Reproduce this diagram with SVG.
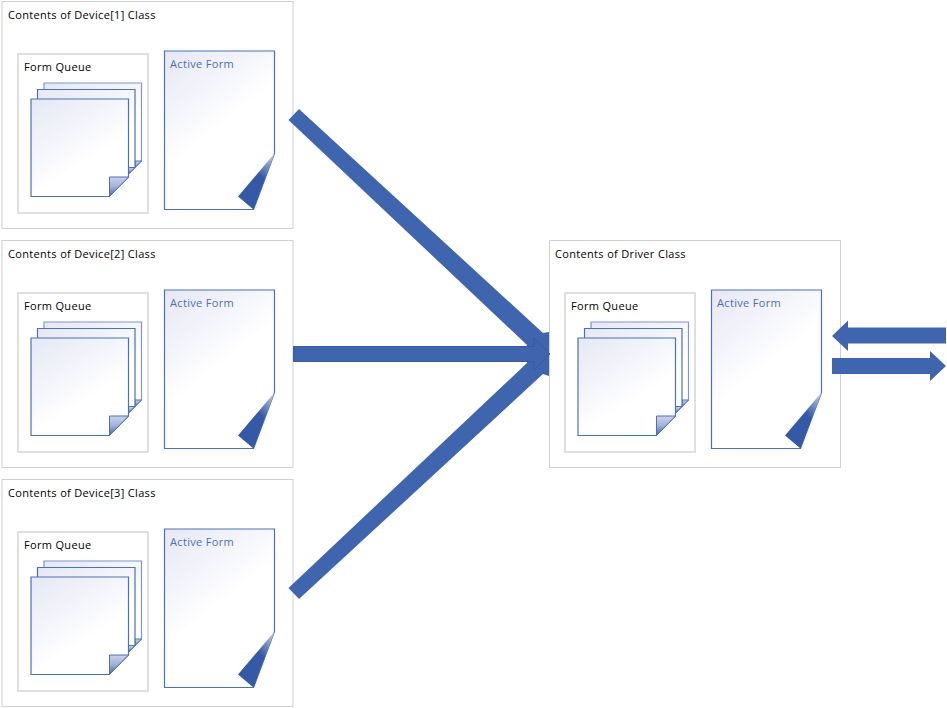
<svg xmlns="http://www.w3.org/2000/svg" width="947" height="708" viewBox="0 0 947 708">
<style>
text{font-family:"Open Sans","Noto Sans",sans-serif;font-size:11px;letter-spacing:.33px;fill:#000}
.box{fill:#fff;stroke:#d0d0d0;stroke-width:1}
.q{fill:#fff;stroke:#dfdfdf;stroke-width:2}
.pg{fill:url(#pg);stroke:#4a72b8;stroke-width:1.2}
.bk{stroke:#7f97c9}
.af{fill:url(#pf);stroke:#4a72b8;stroke-width:1.2}
.arr{fill:#3f65ae}
.mid{fill:#3f65ae;stroke:#375a9f;stroke-width:1}
</style>
<defs>
<linearGradient id="pg" x1="0" y1="0" x2="0.45" y2="0.72"><stop offset="0" stop-color="#e5e7f4"/><stop offset="1" stop-color="#fff"/></linearGradient>
<linearGradient id="pf" x1="0" y1="0" x2="0.32" y2="0.58"><stop offset="0" stop-color="#e5e7f4"/><stop offset="1" stop-color="#fff"/></linearGradient>
<linearGradient id="cf" x1="0.9" y1="0" x2="0.45" y2="0.7"><stop offset="0" stop-color="#b9c6e3"/><stop offset="0.6" stop-color="#3459a6"/></linearGradient>
<linearGradient id="cs" x1="0.5" y1="0" x2="0.5" y2="1"><stop offset="0" stop-color="#cdd3e8"/><stop offset="0.5" stop-color="#a2b1d6"/><stop offset="1" stop-color="#3f65ae"/></linearGradient>
<g id="panel">
<rect class="q" x="18" y="54" width="130" height="159"/>
<text x="24" y="71">Form Queue</text>
<path class="pg bk" d="M44 83H141.500V161L128 174H44Z"/>
<path d="M141.500 161H135V167.500Z" fill="url(#cs)" stroke="#4a72b8"/>
<path class="pg" d="M37.500 89.500H135V167.500L122 180H37.500Z"/>
<path d="M135 167.500H128.500V174Z" fill="url(#cs)" stroke="#4a72b8"/>
<path class="pg" d="M31 99H128.500V177L109 196.500H31Z"/>
<path d="M128.500 177H109.500V196.500Z" fill="url(#cs)" stroke="#4a72b8"/>
<path class="af" d="M164.500 51H274.500V153.500L253.500 209.500H164.500Z"/>
<path d="M274.500 153.500L238 196.500L253.500 209.500Z" fill="url(#cf)"/>
<text x="170" y="68" style="fill:#4a6fb5">Active Form</text>
</g>
</defs>
<g id="device1">
<rect class="box" x="2" y="1.500" width="291" height="227"/>
<text x="8" y="19">Contents of Device[1] Class</text>
<use href="#panel"/>
</g>
<g id="device2">
<rect class="box" x="2" y="240.500" width="291" height="227"/>
<text x="8" y="258">Contents of Device[2] Class</text>
<use href="#panel" y="239"/>
</g>
<g id="device3">
<rect class="box" x="2" y="479.500" width="291" height="227"/>
<text x="8" y="497">Contents of Device[3] Class</text>
<use href="#panel" y="478"/>
</g>
<g id="driver">
<rect class="box" x="549.500" y="240.500" width="291" height="227"/>
<text x="555" y="258">Contents of Driver Class</text>
<use href="#panel" x="547" y="239"/>
</g>
<g id="connectors">
<polygon class="arr" points="288.500,120 299,109 543,333 549,332 549,354 526,354 527,345"/>
<polygon class="arr" points="288.500,588 299,599 543,374 549,376 549,354 526,354 527,363"/>
<polygon class="mid" points="293.500,346.500 534,346.500 534,338 550,354 534,370 534,361.500 293.500,361.500"/>
<polygon class="arr" points="946,327.500 848,327.500 848,320.500 832,336 848,351 848,343.500 946,343.500"/>
<polygon class="arr" points="832,358 930,358 930,351 946,366 930,381 930,374 832,374"/>
</g>
</svg>
